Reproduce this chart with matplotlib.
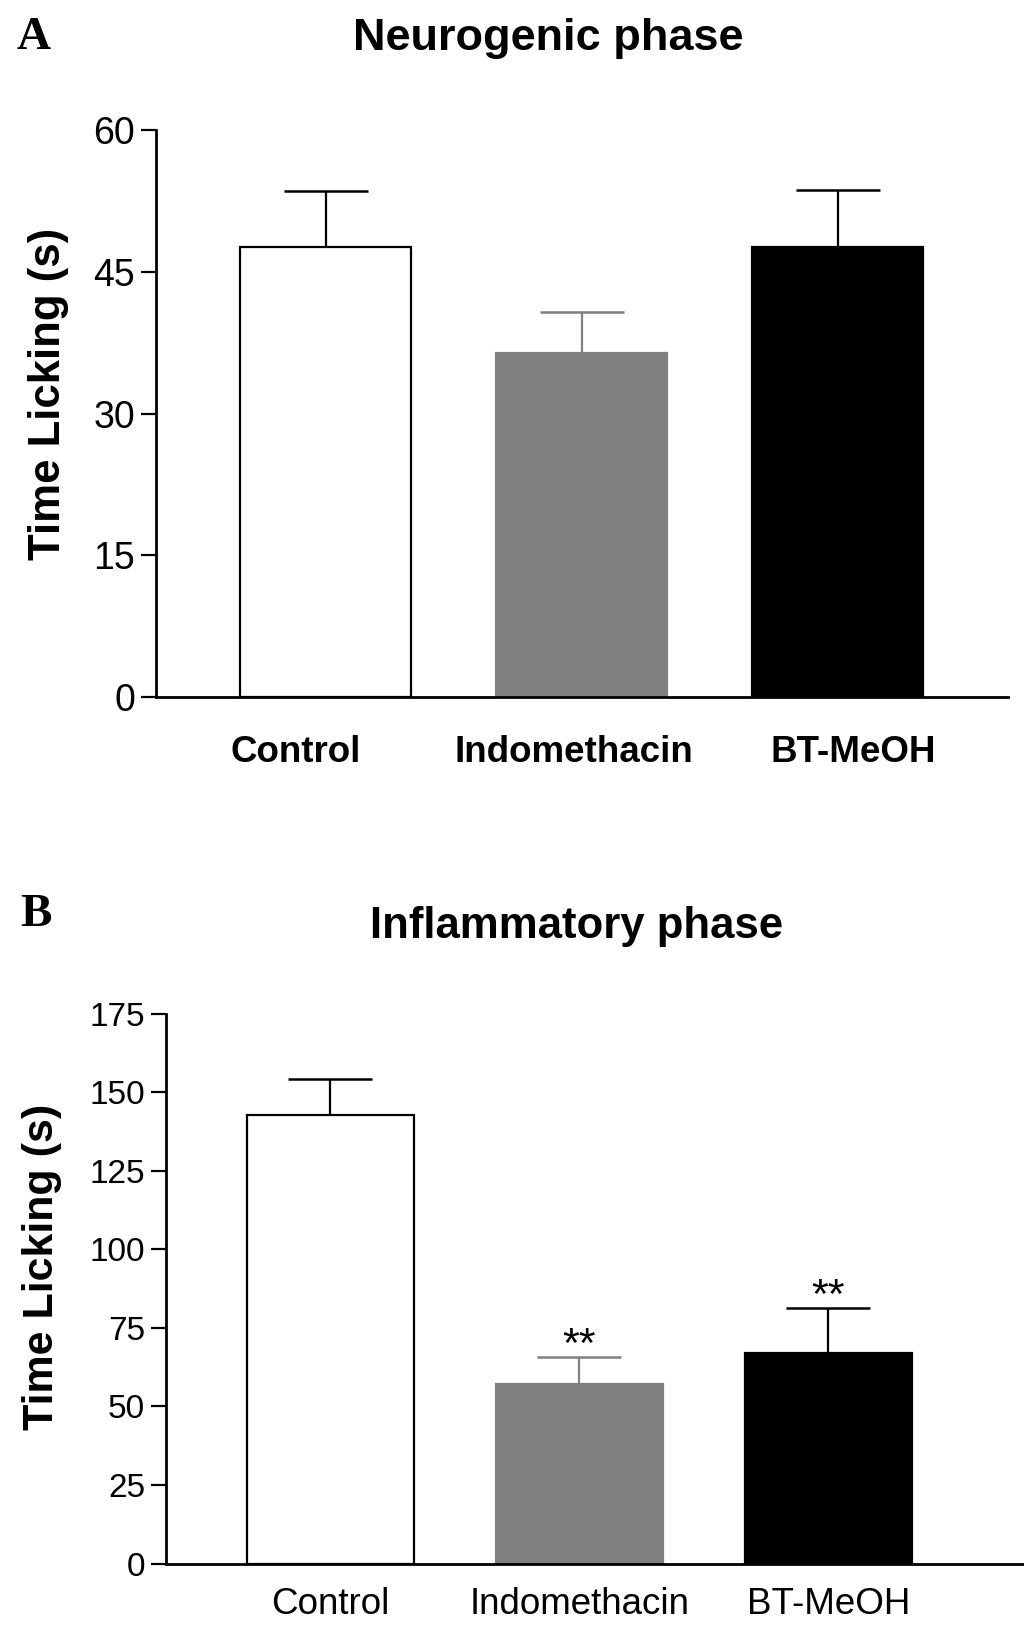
import numpy as np
import matplotlib
matplotlib.use("Agg")
import matplotlib.pyplot as plt

plt.rcParams['font.family'] = ['Liberation Sans', 'DejaVu Sans']

# ── data ────────────────────────────────────────────────────────────────────
GROUPS = ["Control", "Indomethacin", "BT-MeOH"]

NEURO_MEAN = [47.6, 36.4, 47.6]
NEURO_SEM = [6.0, 4.4, 6.1]

INFLAM_MEAN = [142.7, 57.1, 67.0]
INFLAM_SEM = [11.5, 8.6, 14.2]
INFLAM_SIG = ["", "**", "**"]

FACE = ["white", "#808080", "black"]
EDGE = ["black", "#808080", "black"]
ERRC = ["black", "#808080", "black"]


def draw_panel(ax, means, sems, ylim, yticks, xlim, bar_w, lab_shift,
               tick_fs, lab_fs, lab_weight, lab_pad):
    x = np.arange(len(means))
    for i in range(len(means)):
        ax.errorbar(x[i], means[i], yerr=[[0], [sems[i]]], fmt="none",
                    ecolor=ERRC[i], elinewidth=1.6, capsize=30, capthick=1.8,
                    zorder=1)
        ax.bar(x[i], means[i], width=bar_w, color=FACE[i], edgecolor=EDGE[i],
               linewidth=1.6, zorder=2)
    ax.set_xlim(*xlim)
    ax.set_ylim(*ylim)
    ax.set_yticks(yticks)
    ax.set_xticks(x + np.array(lab_shift))
    ax.set_xticklabels(GROUPS, fontsize=lab_fs, fontweight=lab_weight)
    ax.tick_params(axis="x", length=0, pad=lab_pad)
    ax.tick_params(axis="y", length=11, width=1.6, labelsize=tick_fs, pad=4)
    for s in ["top", "right"]:
        ax.spines[s].set_visible(False)
    for s in ["left", "bottom"]:
        ax.spines[s].set_linewidth(2.0)
    return x


fig = plt.figure(figsize=(10.24, 16.26), dpi=100)

# ── Panel A: neurogenic phase ───────────────────────────────────────────────
axA = fig.add_axes([0.1523, 0.5713, 0.832, 0.3487])
draw_panel(axA, NEURO_MEAN, NEURO_SEM, (0, 60), [0, 15, 30, 45, 60],
           (-0.664, 2.664), 0.668, [-0.12, -0.03, 0.06],
           27, 26.5, "bold", 27)
fig.text(0.047, 0.758, "Time Licking (s)", rotation=90, ha="center",
         va="center", fontsize=31.5, fontweight="bold")
fig.text(0.535, 0.9765, "Neurogenic phase", ha="center", va="center",
         fontsize=32.5, fontweight="bold")
fig.text(0.033, 0.9765, "A", ha="center", va="center", fontsize=34,
         fontweight="bold", family=["Liberation Serif", "DejaVu Serif"])

# ── Panel B: inflammatory phase ─────────────────────────────────────────────
axB = fig.add_axes([0.162, 0.0384, 0.838, 0.3382])
xb = draw_panel(axB, INFLAM_MEAN, INFLAM_SEM, (0, 175),
                [0, 25, 50, 75, 100, 125, 150, 175],
                (-0.66, 2.785), 0.67, [0, 0, 0],
                24, 26.5, "normal", 17)
for i, sig in enumerate(INFLAM_SIG):
    if sig:
        axB.annotate(sig, (xb[i], INFLAM_MEAN[i] + INFLAM_SEM[i]),
                     xytext=(0, 0), textcoords="offset points",
                     ha="center", va="baseline", fontsize=31)
fig.text(0.041, 0.2207, "Time Licking (s)", rotation=90, ha="center",
         va="center", fontsize=31, fontweight="bold")
fig.text(0.563, 0.4305, "Inflammatory phase", ha="center", va="center",
         fontsize=31.5, fontweight="bold")
fig.text(0.035, 0.437, "B", ha="center", va="center", fontsize=34,
         fontweight="bold", family=["Liberation Serif", "DejaVu Serif"])

fig.savefig("out.png", dpi=100)
